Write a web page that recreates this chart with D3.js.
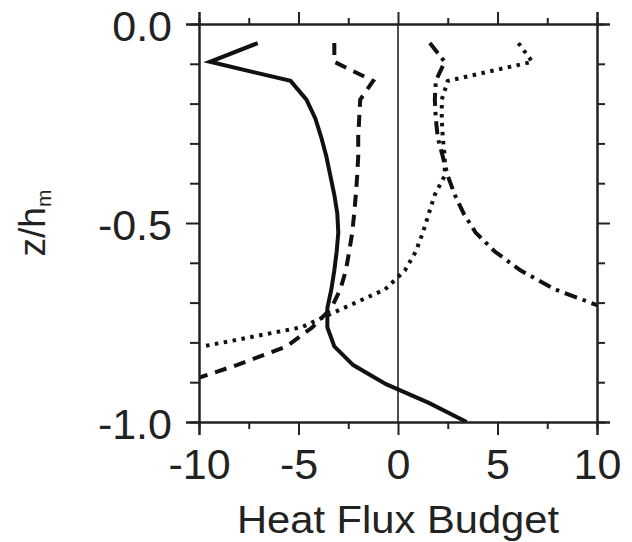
<!DOCTYPE html>
<html>
<head>
<meta charset="utf-8">
<script src="https://cdn.jsdelivr.net/npm/d3@7"></script>
<style>
  body { margin: 0; background: #fff; }
  text { font-family: "Liberation Sans", Arial, sans-serif; fill: #222; }
</style>
</head>
<body>
<div id="chart"></div>
<script>
// vertical levels (z/h_m)
var levels = [-0.048, -0.095, -0.143, -0.190, -0.238, -0.286, -0.333, -0.381, -0.429, -0.476,
              -0.524, -0.571, -0.619, -0.667, -0.714, -0.762, -0.810, -0.857, -0.905, -0.952, -1.0];

// heat flux budget terms
var solid   = [-7.05, -9.45, -5.4, -4.6, -4.15, -3.85, -3.6, -3.4, -3.2, -3.05,
               -3.0, -3.08, -3.2, -3.35, -3.55, -3.55, -3.2, -2.25, -0.6, 1.55, 3.45];
var dashed  = [-3.2, -3.2, -1.25, -1.9, -1.95, -2.0, -2.0, -2.05, -2.12, -2.2,
               -2.3, -2.45, -2.62, -2.9, -3.35, -4.3, -5.6, -8.1, -11.0];
var dotted  = [6.05, 6.75, 2.5, 2.2, 2.2, 2.25, 2.35, 2.35, 1.85, 1.55,
               1.25, 0.9, 0.35, -0.65, -2.75, -4.85, -9.8];
var dashdot = [1.6, 2.35, 1.9, 1.85, 1.9, 2.0, 2.25, 2.5, 2.85, 3.3,
               3.9, 4.85, 6.15, 7.9, 10.4];

var xTicks = [-10, -5, 0, 5, 10];
var yTicks = [0, -0.5, -1];
var xMinor = [-7.5, -2.5, 2.5, 7.5];
var yMinor = [-0.1, -0.2, -0.3, -0.4, -0.6, -0.7, -0.8, -0.9];

var width = 632, height = 542;
var margin = {top: 24, right: 35, bottom: 120, left: 199};
var w = width - margin.left - margin.right,
    h = height - margin.top - margin.bottom;

var svg = d3.select("#chart")
  .append("svg")
    .attr("width", width)
    .attr("height", height);

var g = svg.append("g")
    .attr("transform", "translate(" + margin.left + "," + margin.top + ")");

var x = d3.scaleLinear().domain([-10, 10]).range([0, w]);
var y = d3.scaleLinear().domain([-1, 0]).range([h, 0]);

// plain hyphen instead of unicode minus
var fmtX = function(d) { return d3.format("d")(d).replace("\u2212", "-"); };
var fmtY = function(d) { return d3.format(".1f")(d).replace("\u2212", "-"); };

g.append("clipPath").attr("id", "clip")
  .append("rect").attr("width", w).attr("height", h);

// zero line
g.append("line")
    .attr("x1", x(0)).attr("x2", x(0))
    .attr("y1", 0).attr("y2", h)
    .attr("stroke", "#222").attr("stroke-width", 1.6);

// curves
var series = [
  {v: solid,   dash: null},
  {v: dashed,  dash: "12,8"},
  {v: dotted,  dash: "3.5,5.5"},
  {v: dashdot, dash: "13,6,3.5,6"}
];

var line = d3.line()
    .x(function(d) { return x(d[0]); })
    .y(function(d) { return y(d[1]); });

series.forEach(function(s) {
  var pts = s.v.map(function(v, i) { return [v, levels[i]]; });
  g.append("path")
      .attr("d", line(pts))
      .attr("clip-path", "url(#clip)")
      .attr("fill", "none")
      .attr("stroke", "#111")
      .attr("stroke-width", 4)
      .attr("stroke-dasharray", s.dash);
});

// axes: ticks pointing outward on all four sides
var axStyle = function(sel) {
  sel.select(".domain").attr("stroke", "#222").attr("stroke-width", 2);
  sel.selectAll(".tick line").attr("stroke", "#222").attr("stroke-width", 2);
};

g.append("g")
    .attr("transform", "translate(0," + h + ")")
    .call(d3.axisBottom(x).tickValues(xTicks).tickSize(13).tickPadding(13).tickFormat(fmtX))
    .call(axStyle)
    .selectAll("text").style("font-size", "43px").attr("fill", "#222");

g.append("g")
    .attr("transform", "translate(0," + h + ")")
    .call(d3.axisBottom(x).tickValues(xMinor).tickSize(7).tickFormat(""))
    .call(axStyle);

g.append("g")
    .call(d3.axisTop(x).tickValues(xTicks).tickSize(12).tickFormat(""))
    .call(axStyle);

g.append("g")
    .call(d3.axisTop(x).tickValues(xMinor).tickSize(6).tickFormat(""))
    .call(axStyle);

g.append("g")
    .call(d3.axisLeft(y).tickValues(yTicks).tickSize(13).tickPadding(14).tickFormat(fmtY))
    .call(axStyle)
    .selectAll("text").style("font-size", "43px").attr("dy", "0.38em").attr("fill", "#222");

g.append("g")
    .call(d3.axisLeft(y).tickValues(yMinor).tickSize(9).tickFormat(""))
    .call(axStyle);

g.append("g")
    .attr("transform", "translate(" + w + ",0)")
    .call(d3.axisRight(y).tickValues(yTicks).tickSize(13).tickFormat(""))
    .call(axStyle);

g.append("g")
    .attr("transform", "translate(" + w + ",0)")
    .call(d3.axisRight(y).tickValues(yMinor).tickSize(8).tickFormat(""))
    .call(axStyle);

// axis titles
svg.append("text")
    .attr("x", margin.left + w / 2)
    .attr("y", 533)
    .attr("text-anchor", "middle")
    .attr("textLength", 322)
    .attr("lengthAdjust", "spacingAndGlyphs")
    .style("font-size", "38px")
    .text("Heat Flux Budget");

var yl = svg.append("text")
    .attr("transform", "translate(45,223) rotate(-90)")
    .attr("text-anchor", "middle")
    .style("font-size", "37px");
yl.append("tspan").text("z/h");
yl.append("tspan").attr("dy", 6).style("font-size", "21px").text("m");
</script>
</body>
</html>
